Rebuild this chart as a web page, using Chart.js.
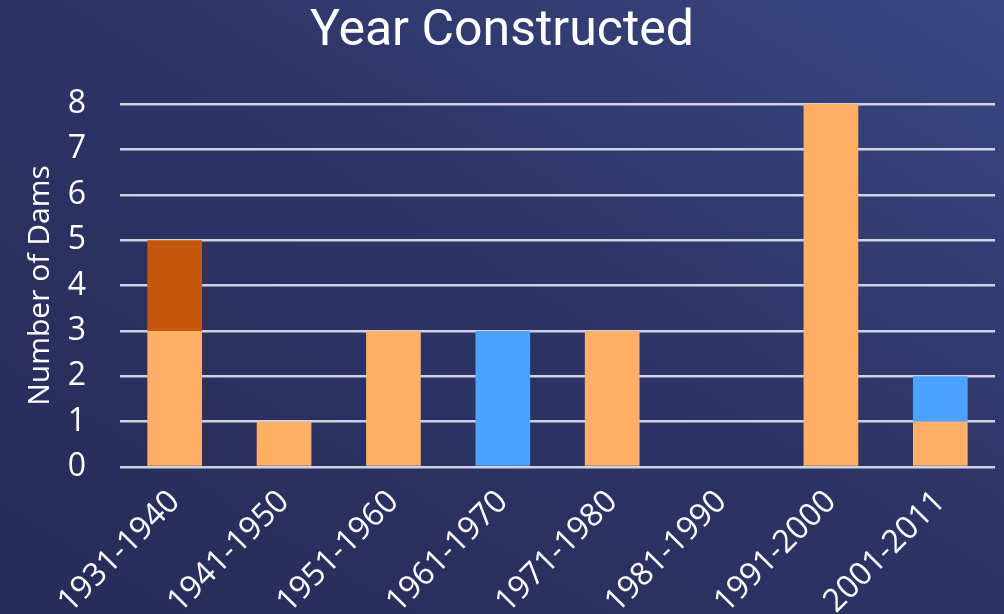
<!DOCTYPE html>
<html>
<head>
<meta charset="utf-8">
<script src="https://cdn.jsdelivr.net/npm/chart.js@4"></script>
<style>
  html, body { margin: 0; padding: 0; overflow: hidden; }
  body {
    width: 1004px; height: 614px;
    background: linear-gradient(to top right, #272b58 0%, #2d3466 55%, #3a4783 100%);
  }
  #wrap { width: 1004px; height: 629px; }
</style>
</head>
<body>
<div id="wrap"><canvas id="myChart"></canvas></div>
<script>
//Chart data
const categories = ['1931-1940', '1941-1950', '1951-1960', '1961-1970', '1971-1980', '1981-1990', '1991-2000', '2001-2011'];
const lightOrange = [3, 1, 3, 0, 3, 0, 8, 1];
const darkOrange = [2, 0, 0, 0, 0, 0, 0, 0];
const blue = [0, 0, 0, 3, 0, 0, 0, 1];
const yTicks = [0, 1, 2, 3, 4, 5, 6, 7, 8];

const ctx = document.getElementById('myChart').getContext('2d');

//Shared bar style
const barStyle = { barPercentage: 0.5, categoryPercentage: 1, borderWidth: 0 };

const myChart = new Chart(ctx, {
   type: 'bar',
   data: {
      labels: categories,
      datasets: [
         { data: lightOrange, backgroundColor: '#ffb066', ...barStyle },
         { data: darkOrange, backgroundColor: '#c5570b', ...barStyle },
         { data: blue, backgroundColor: '#4da1ff', ...barStyle }
      ]
   },
   options: {
      responsive: true,
      maintainAspectRatio: false,
      animation: false,
      layout: { padding: 0 },
      scales: {
         x: {
            stacked: true,
            grid: { display: false },
            border: { display: false },
            ticks: {
               color: '#ffffff',
               maxRotation: 45,
               minRotation: 45,
               padding: 8,
               font: { family: 'Open Sans', size: 32 }
            }
         },
         y: {
            stacked: true,
            min: 0,
            max: 8,
            afterBuildTicks: (axis) => { axis.ticks = yTicks.map(v => ({ value: v })); },
            afterFit: (axis) => { axis.width = 120; },
            grid: { color: 'rgba(225,228,240,0.9)', lineWidth: 2.5, drawTicks: false },
            border: { display: false },
            ticks: {
               color: '#ffffff',
               padding: 34,
               font: { family: 'Open Sans', size: 32 }
            },
            title: {
               display: true,
               text: 'Number of Dams',
               color: '#ffffff',
               padding: { top: 22, bottom: 2 },
               font: { family: 'Open Sans', size: 30 }
            }
         },
         //empty right axis, only keeps a small margin on the right
         yRight: {
            position: 'right',
            grid: { display: false },
            border: { display: false },
            ticks: { display: false },
            afterFit: (axis) => { axis.width = 9; }
         }
      },
      plugins: {
         legend: { display: false },
         tooltip: { enabled: false },
         title: {
            display: true,
            text: 'Year Constructed',
            color: '#ffffff',
            padding: { top: 2, bottom: 42 },
            font: { family: 'Roboto', size: 50, weight: 400 }
         }
      }
   }
});
</script>
</body>
</html>
